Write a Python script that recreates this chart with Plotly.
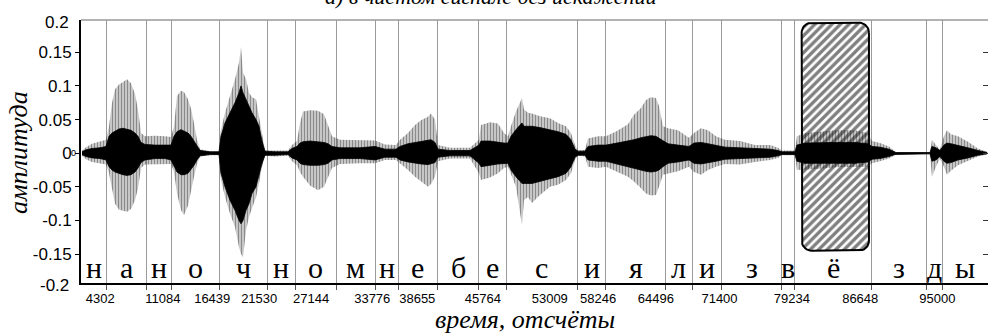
import numpy as np
import plotly.graph_objects as go

# ---------------- data ----------------
# segment boundaries (sample index)
BOUNDS = [4929, 9263, 11972, 17172, 22448, 25406, 29848, 34149, 36597, 40866,
          45340, 48341, 55990, 59099, 65567, 68449, 71613, 78167, 79543, 87885,
          93822, 95579]
PHONEMES = list("наночномнебесиялизвёзды")
TICK_VALUES = [4302, 11084, 16439, 21530, 27144, 33776, 38655, 45764, 53009,
               58246, 64496, 71400, 79234, 86648, 95000]
Y_TICKS = [-0.15, -0.1, -0.05, 0, 0.05, 0.1, 0.15]
Y_TICK_TEXT = ["-0.15", "-0.1", "-0.05", "0", "0.05", "0.1", "0.15"]
X_RANGE = [2220, 100490]
Y_RANGE = [-0.193, 0.198]

# waveform envelope (sample, outer top/bottom, dense core top/bottom)
WAVE_X = [2329, 2763, 3413, 4279, 4929, 5254, 5580, 5905, 6338, 6771, 7205, 7638, 8071, 8396,
          8721, 9155, 10238, 11322, 11972, 12297, 12622, 13055, 13380, 13813, 14138, 14463,
          14788, 15113, 16197, 17172, 17389, 17822, 18364, 18905, 19339, 19555, 19772, 20097,
          20422, 20747, 21180, 21505, 21831, 22156, 23239, 24647, 25081, 25622, 25947, 26272,
          27031, 27898, 28548, 28981, 29414, 30281, 32448, 34073, 35156, 36348, 36781, 37648,
          38407, 39057, 39815, 40141, 40574, 40898, 42198, 44365, 45340, 45557, 46532, 47398,
          48048, 48482, 48807, 49349, 49999, 50216, 50649, 51082, 51949, 53032, 53899, 54766,
          55307, 55740, 56065, 56823, 57148, 58233, 59099, 60291, 61483, 62132, 62891, 63433,
          63974, 64516, 64841, 65274, 65817, 66900, 68093, 68633, 69392, 70150, 71017, 71993,
          73617, 75242, 76867, 77734, 78167, 79576, 79792, 80659, 82284, 83909, 86076, 87485,
          87918, 88785, 89760, 90410, 90518, 94202, 94419, 94851, 95285, 95718, 96043, 96477,
          97235, 98319, 99402, 100377]
OUTER_TOP = [0.004, 0.009, 0.014, 0.017, 0.02, 0.04, 0.075, 0.095, 0.102, 0.106, 0.110, 0.104,
             0.088, 0.065, 0.03, 0.025, 0.026, 0.025, 0.024, 0.04, 0.085, 0.093, 0.091, 0.08,
             0.066, 0.045, 0.02, 0.006, 0.003, 0.003, 0.035, 0.06, 0.085, 0.11, 0.135, 0.158,
             0.12, 0.11, 0.09, 0.083, 0.08, 0.055, 0.025, 0.004, 0.004, 0.004, 0.012, 0.018,
             0.045, 0.062, 0.064, 0.063, 0.058, 0.042, 0.025, 0.02, 0.02, 0.019, 0.013, 0.012,
             0.02, 0.03, 0.042, 0.049, 0.054, 0.059, 0.05, 0.012, 0.008, 0.008, 0.02, 0.042,
             0.046, 0.044, 0.03, 0.025, 0.04, 0.062, 0.082, 0.065, 0.06, 0.059, 0.055, 0.052,
             0.045, 0.04, 0.03, 0.012, 0.004, 0.005, 0.022, 0.025, 0.025, 0.033, 0.043, 0.057,
             0.067, 0.079, 0.083, 0.082, 0.07, 0.04, 0.037, 0.034, 0.023, 0.03, 0.037, 0.034,
             0.025, 0.02, 0.018, 0.012, 0.012, 0.008, 0.004, 0.004, 0.025, 0.03, 0.032, 0.034,
             0.034, 0.03, 0.018, 0.015, 0.01, 0.003, 0.001, 0.001, 0.02, 0.012, 0.006, 0.025,
             0.034, 0.028, 0.025, 0.017, 0.007, 0.002]
OUTER_BOT = [-0.004, -0.009, -0.013, -0.015, -0.017, -0.03, -0.055, -0.075, -0.084, -0.086,
             -0.087, -0.083, -0.07, -0.052, -0.022, -0.017, -0.017, -0.016, -0.016, -0.028,
             -0.06, -0.085, -0.092, -0.078, -0.056, -0.035, -0.016, -0.005, -0.003, -0.003,
             -0.04, -0.065, -0.09, -0.11, -0.14, -0.15, -0.155, -0.115, -0.095, -0.082, -0.066,
             -0.045, -0.02, -0.004, -0.005, -0.004, -0.012, -0.018, -0.028, -0.035, -0.048,
             -0.055, -0.05, -0.035, -0.022, -0.016, -0.015, -0.015, -0.01, -0.01, -0.015,
             -0.025, -0.035, -0.042, -0.05, -0.046, -0.035, -0.012, -0.008, -0.008, -0.03,
             -0.04, -0.036, -0.03, -0.022, -0.02, -0.03, -0.05, -0.107, -0.07, -0.065, -0.074,
             -0.062, -0.05, -0.047, -0.04, -0.03, -0.01, -0.004, -0.005, -0.02, -0.022, -0.02,
             -0.027, -0.035, -0.042, -0.052, -0.06, -0.063, -0.062, -0.05, -0.032, -0.03,
             -0.027, -0.02, -0.028, -0.032, -0.025, -0.02, -0.016, -0.017, -0.013, -0.01,
             -0.007, -0.003, -0.003, -0.025, -0.025, -0.023, -0.021, -0.02, -0.02, -0.015,
             -0.012, -0.008, -0.003, -0.001, -0.001, -0.035, -0.02, -0.008, -0.02, -0.032,
             -0.026, -0.018, -0.012, -0.005, -0.002]
CORE_TOP = [0.002, 0.005, 0.007, 0.008, 0.01, 0.025, 0.03, 0.033, 0.036, 0.037, 0.036, 0.034,
            0.03, 0.025, 0.016, 0.013, 0.012, 0.012, 0.012, 0.025, 0.032, 0.035, 0.033, 0.03,
            0.025, 0.018, 0.01, 0.004, 0.002, 0.002, 0.025, 0.045, 0.06, 0.075, 0.09, 0.1,
            0.09, 0.08, 0.07, 0.06, 0.05, 0.04, 0.018, 0.003, 0.002, 0.002, 0.007, 0.01,
            0.015, 0.017, 0.018, 0.017, 0.016, 0.014, 0.01, 0.008, 0.008, 0.01, 0.006, 0.006,
            0.01, 0.014, 0.016, 0.018, 0.02, 0.02, 0.016, 0.006, 0.004, 0.004, 0.012, 0.018,
            0.018, 0.016, 0.015, 0.015, 0.025, 0.035, 0.045, 0.04, 0.04, 0.04, 0.038, 0.035,
            0.032, 0.028, 0.02, 0.006, 0.003, 0.003, 0.01, 0.012, 0.012, 0.015, 0.018, 0.02,
            0.023, 0.025, 0.026, 0.025, 0.022, 0.018, 0.014, 0.012, 0.01, 0.015, 0.016, 0.014,
            0.012, 0.009, 0.008, 0.007, 0.006, 0.004, 0.002, 0.002, 0.012, 0.015, 0.016, 0.016,
            0.016, 0.014, 0.01, 0.009, 0.006, 0.002, 0.001, 0.001, 0.01, 0.008, 0.004, 0.012,
            0.015, 0.014, 0.012, 0.008, 0.004, 0.001]
CORE_BOT = [-0.002, -0.005, -0.007, -0.008, -0.01, -0.02, -0.025, -0.028, -0.03, -0.032,
            -0.033, -0.032, -0.028, -0.022, -0.014, -0.01, -0.008, -0.008, -0.01, -0.02,
            -0.028, -0.032, -0.032, -0.03, -0.025, -0.018, -0.01, -0.004, -0.002, -0.002,
            -0.03, -0.05, -0.07, -0.085, -0.1, -0.105, -0.1, -0.085, -0.075, -0.06, -0.05,
            -0.035, -0.015, -0.003, -0.003, -0.002, -0.007, -0.01, -0.015, -0.017, -0.018,
            -0.018, -0.017, -0.015, -0.01, -0.008, -0.008, -0.01, -0.006, -0.006, -0.01,
            -0.013, -0.015, -0.016, -0.017, -0.016, -0.014, -0.006, -0.004, -0.004, -0.015,
            -0.02, -0.018, -0.016, -0.015, -0.015, -0.025, -0.035, -0.045, -0.045, -0.045,
            -0.045, -0.042, -0.038, -0.035, -0.03, -0.02, -0.006, -0.003, -0.003, -0.01,
            -0.012, -0.012, -0.016, -0.02, -0.022, -0.025, -0.027, -0.028, -0.027, -0.025,
            -0.02, -0.015, -0.013, -0.01, -0.015, -0.016, -0.014, -0.012, -0.009, -0.008,
            -0.007, -0.006, -0.004, -0.002, -0.002, -0.012, -0.015, -0.015, -0.015, -0.015,
            -0.013, -0.009, -0.008, -0.005, -0.002, -0.001, -0.001, -0.012, -0.01, -0.005,
            -0.012, -0.015, -0.014, -0.01, -0.007, -0.003, -0.001]

# highlighted (hatched) region
BOX_X = [80302, 87593]
BOX_Y = [-0.145, 0.194]

TITLE = "а) в чистом сигнале без искажений"
X_TITLE = "время, отсчёты"
Y_TITLE = "амплитуда"

# ---------------- geometry helpers ----------------
W, H = 988, 333
ML, MR, MT, MB = 81, 0, 20, 50
PW, PH = W - ML - MR, H - MT - MB


def px_x(px):
    return (px - ML) / PW


def px_y(py):
    return (H - MB - py) / PH


def rounded_rect(x0, x1, y0, y1, rx, ry, n=10):
    t = np.linspace(0, np.pi / 2, n)
    xs, ys = [], []
    for cx, cy, a0 in [(x1 - rx, y1 - ry, 0.0), (x0 + rx, y1 - ry, np.pi / 2),
                       (x0 + rx, y0 + ry, np.pi), (x1 - rx, y0 + ry, 1.5 * np.pi)]:
        a = a0 + t
        xs += list(cx + rx * np.cos(a))
        ys += list(cy + ry * np.sin(a))
    xs.append(xs[0])
    ys.append(ys[0])
    return xs, ys


x_per_px = (X_RANGE[1] - X_RANGE[0]) / PW
y_per_px = (Y_RANGE[1] - Y_RANGE[0]) / PH

fig = go.Figure()

# hatched box
bx, by = rounded_rect(BOX_X[0], BOX_X[1], BOX_Y[0], BOX_Y[1], 10 * x_per_px, 10 * y_per_px)
fig.add_trace(go.Scatter(
    x=bx, y=by, mode="lines", fill="toself",
    line=dict(color="black", width=2),
    fillcolor="white",
    fillpattern=dict(shape="/", size=6, solidity=0.55, fgcolor="black", bgcolor="white"),
    hoverinfo="skip"))

# outer (periodic peaks) envelope
fig.add_trace(go.Scatter(
    x=WAVE_X + WAVE_X[::-1], y=OUTER_TOP + OUTER_BOT[::-1],
    mode="lines", fill="toself", line=dict(width=0, color="rgba(0,0,0,0)"),
    fillcolor="rgba(0,0,0,0)",
    fillpattern=dict(shape="|", size=3, solidity=0.66, fgcolor="#151515",
                     bgcolor="rgba(0,0,0,0)"),
    hoverinfo="skip"))

# dense core
fig.add_trace(go.Scatter(
    x=WAVE_X + WAVE_X[::-1], y=CORE_TOP + CORE_BOT[::-1],
    mode="lines", fill="toself", line=dict(width=0.8, color="black"),
    fillcolor="black", hoverinfo="skip"))

# carrier for the mirrored right axis
fig.add_trace(go.Scatter(x=[X_RANGE[0]], y=[0], yaxis="y2", mode="markers",
                         marker=dict(opacity=0), hoverinfo="skip"))

annotations = []
# phoneme letters at segment centres
edges = [X_RANGE[0]] + BOUNDS + [X_RANGE[1]]
for i, ch in enumerate(PHONEMES):
    annotations.append(dict(
        x=(edges[i] + edges[i + 1]) / 2, y=px_y(267), xref="x", yref="paper",
        text=ch, showarrow=False, xanchor="center", yanchor="middle",
        font=dict(family="Liberation Serif, Times New Roman, serif", size=30, color="black")))

# y labels at the frame edges
for txt, py in [("0.2", 22.7), ("-0.2", 285)]:
    annotations.append(dict(
        x=px_x(71), y=px_y(py), xref="paper", yref="paper", text=txt, showarrow=False,
        xanchor="right", yanchor="middle",
        font=dict(family="Liberation Sans, Arial, sans-serif", size=17, color="black")))

# small zero next to the axis
annotations.append(dict(x=px_x(78), y=0, xref="paper", yref="y", text="0", showarrow=False,
                        xanchor="right", yanchor="middle",
                        font=dict(family="Liberation Sans, Arial", size=9, color="black")))

# titles
annotations.append(dict(x=px_x(525), y=px_y(319.5), xref="paper", yref="paper",
                        text="<i>" + X_TITLE + "</i>", showarrow=False,
                        xanchor="center", yanchor="middle",
                        font=dict(family="Liberation Serif, Times New Roman, serif", size=26,
                                  color="black")))
annotations.append(dict(x=px_x(18), y=px_y(153), xref="paper", yref="paper",
                        text="<i>" + Y_TITLE + "</i>", showarrow=False, textangle=-90,
                        xanchor="center", yanchor="middle",
                        font=dict(family="Liberation Serif, Times New Roman, serif", size=26,
                                  color="black")))
annotations.append(dict(x=px_x(490), y=px_y(-4), xref="paper", yref="paper",
                        text="<i>" + TITLE + "</i>", showarrow=False,
                        xanchor="center", yanchor="middle",
                        font=dict(family="Liberation Serif, Times New Roman, serif", size=22,
                                  color="black")))

fig.update_layout(
    width=W, height=H, margin=dict(l=ML, r=MR, t=MT, b=MB, pad=0),
    plot_bgcolor="white", paper_bgcolor="white", showlegend=False,
    xaxis=dict(range=X_RANGE, tickmode="array", tickvals=TICK_VALUES,
               ticktext=[str(v) for v in TICK_VALUES], ticks="", showgrid=False,
               zeroline=False, showline=True, linecolor="black", linewidth=1.5,
               ticklabelstandoff=3,
               tickfont=dict(family="Liberation Sans, Arial, sans-serif", size=13,
                             color="black"),
               minor=dict(tickmode="array", tickvals=BOUNDS, ticks="outside", ticklen=5,
                          tickcolor="#555555", tickwidth=1, showgrid=True,
                          gridcolor="#9a9a9a", gridwidth=1)),
    yaxis=dict(range=Y_RANGE, tickmode="array", tickvals=Y_TICKS, ticktext=Y_TICK_TEXT,
               ticks="outside", ticklen=4, tickcolor="black", showgrid=False,
               zeroline=False, showline=True, linecolor="black", linewidth=2,
               tickfont=dict(family="Liberation Sans, Arial, sans-serif", size=17,
                             color="black")),
    yaxis2=dict(range=Y_RANGE, overlaying="y", side="right", tickmode="array",
                tickvals=Y_TICKS, ticks="inside", ticklen=5, tickcolor="#333333",
                showticklabels=False, showgrid=False, zeroline=False, showline=False),
    annotations=annotations,
    shapes=[dict(type="line", xref="paper", yref="paper", x0=0, x1=1, y0=1, y1=1,
                 line=dict(color="#999999", width=1.5))],
)

fig.write_html("out.html", config={"displayModeBar": False},
               post_script="document.body.style.margin='0';document.body.style.overflow='hidden';")
